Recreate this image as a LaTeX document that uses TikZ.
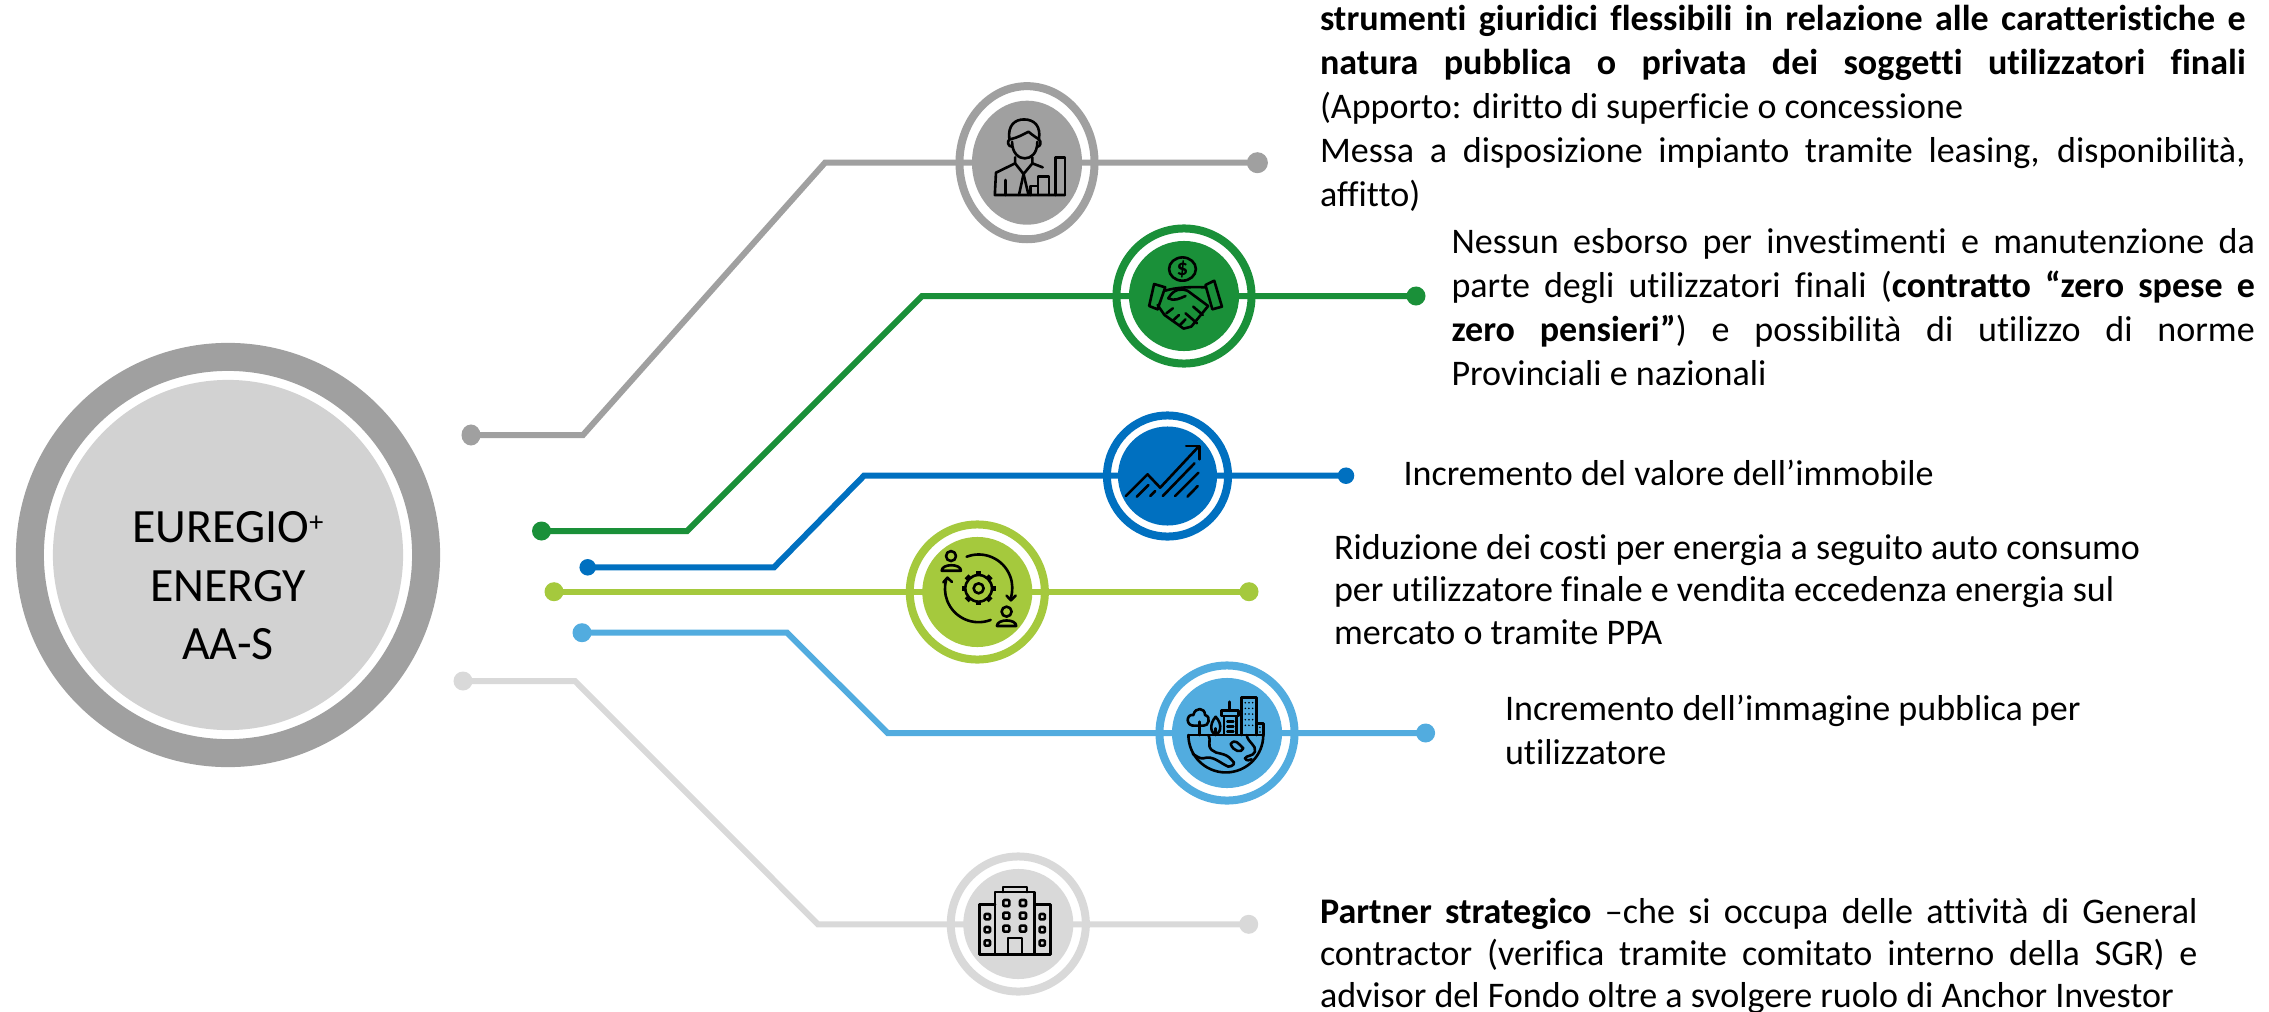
\documentclass[tikz,border=0pt]{standalone}
\usepackage{fontspec}
\setmainfont{Carlito}[Ligatures=NoCommon]
\usetikzlibrary{shapes.geometric}
\definecolor{ringgray}{HTML}{A0A0A0}
\definecolor{coregray}{HTML}{D2D2D2}
\definecolor{linegreen}{HTML}{1A9039}
\definecolor{lineblue}{HTML}{0070C0}
\definecolor{linelime}{HTML}{A5C93D}
\definecolor{linesky}{HTML}{52ACDF}
\definecolor{linepale}{HTML}{D9D9D9}
\tikzset{
  hubring/.style={circle, draw=#1, fill=white, line width=.08cm, outer sep=0, inner sep=0, minimum size=1.35cm},
  hubcore/.style={circle, fill=#1, outer sep=0, inner sep=0, minimum size=1.10cm},
  enddot/.style={circle, fill=#1, outer sep=0, inner sep=0, minimum size=.19cm},
  wire/.style={draw=#1, line width=.06cm, line join=miter},
  iconline/.style={draw=black, line width=.026cm, line join=round, line cap=round},
  zoomed/.style={x=.003333cm, y=-.003333cm},
  bodytext/.style={anchor=north west, inner sep=0, outer sep=0, align=justify, font=\fontsize{10.25}{12.55}\selectfont},
  plaintext/.style={anchor=north west, inner sep=0, outer sep=0, align=left, font=\fontsize{10.25}{12.55}\selectfont}
}
\begin{document}
\begin{tikzpicture}[x=.01cm, y=-.01cm]
  \useasboundingbox (0,0) rectangle (2269,1012);

  % main circle
  \node[circle, draw=ringgray, fill=white, line width=.28cm, outer sep=0, inner sep=0, minimum size=3.96cm] (euring) at (228,555) {};
  \node[circle, fill=coregray, outer sep=0, inner sep=0, minimum size=3.50cm] (eucore) at (228,555) {};
  \node[align=center, inner sep=0, font=\fontsize{13.6}{16.6}\selectfont] (eutext) at (228,586) {EUREGIO{\fontsize{8}{8}\selectfont\raisebox{.85ex}{+}}\\ENERGY\\AA-S};

  % rings of the six hubs
  \node[ellipse, draw=ringgray, fill=white, line width=.08cm, outer sep=0, inner sep=0, minimum width=1.35cm, minimum height=1.53cm] (manring) at (1027,162.7) {};
  \node[hubring=linegreen] (dealring) at (1184,296) {};
  \node[hubring=lineblue, minimum size=1.21cm] (growring) at (1167.5,476) {};
  \node[hubring=linelime] (gearring) at (977.3,592) {};
  \node[hubring=linesky] (cityring) at (1227,733) {};
  \node[hubring=linepale] (bldgring) at (1018.3,924) {};

  % end dots on the left
  \node[enddot=ringgray, minimum height=.21cm, ellipse] (manleft) at (471,435) {};
  \node[enddot=linegreen] (dealleft) at (541.5,531) {};
  \node[enddot=lineblue, minimum size=.165cm] (growleft) at (587.7,567.3) {};
  \node[enddot=linelime] (gearleft) at (554,591.7) {};
  \node[enddot=linesky] (cityleft) at (582,632.7) {};
  \node[enddot=linepale] (bldgleft) at (463,681) {};
  % end dots on the right
  \node[ellipse, enddot=ringgray, minimum height=.21cm] (manright) at (1257.4,162.7) {};
  \node[enddot=linegreen] (dealright) at (1416,296) {};
  \node[enddot=lineblue, minimum size=.165cm] (growright) at (1346,475.7) {};
  \node[enddot=linelime] (gearright) at (1249,591.7) {};
  \node[enddot=linesky] (cityright) at (1425.6,733) {};
  \node[enddot=linepale] (bldgright) at (1248.7,924.3) {};

  % elbows
  \coordinate (manbend) at (583,435);
  \coordinate (mantop) at (825,162.7);
  \coordinate (dealbend) at (687,531);
  \coordinate (dealtop) at (922,296);
  \coordinate (growbend) at (774,567.3);
  \coordinate (growtop) at (864,475.7);
  \coordinate (citybend) at (787,632.7);
  \coordinate (citylow) at (887.7,733);
  \coordinate (bldgbend) at (575,681);
  \coordinate (bldglow) at (818,924.3);

  % connectors
  \draw[wire=ringgray] (manleft.center) -- (manbend) -- (mantop) -- (manright.center);
  \draw[wire=linegreen] (dealleft.center) -- (dealbend) -- (dealtop) -- (dealright.center);
  \draw[wire=lineblue] (growleft.center) -- (growbend) -- (growtop) -- (growright.center);
  \draw[wire=linelime] (gearleft.center) -- (gearright.center);
  \draw[wire=linesky] (cityleft.center) -- (citybend) -- (citylow) -- (cityright.center);
  \draw[wire=linepale] (bldgleft.center) -- (bldgbend) -- (bldglow) -- (bldgright.center);

  % cores of the hubs
  \node[ellipse, fill=ringgray, outer sep=0, inner sep=0, minimum width=1.10cm, minimum height=1.24cm] (mancore) at (manring) {};
  \node[hubcore=linegreen] (dealcore) at (dealring) {};
  \node[hubcore=lineblue, minimum size=.99cm] (growcore) at (growring) {};
  \node[hubcore=linelime] (gearcore) at (gearring) {};
  \node[hubcore=linesky] (citycore) at (cityring) {};
  \node[hubcore=linepale] (bldgcore) at (bldgring) {};

  % person with bars
  \begin{scope}[shift={(mancore)}, x=.003827cm, y=-.003333cm, shift={(-331,-338)}]
    \draw[iconline] (285,268) .. controls (280,225) and (300,208) .. (323,208) .. controls (350,208) and (368,228) .. (362,268);
    \draw[iconline] (285,268) .. controls (310,262) and (325,250) .. (335,245) .. controls (345,255) and (355,262) .. (362,268);
    \draw[iconline] (292,275) .. controls (292,310) and (310,325) .. (325,325) .. controls (342,325) and (358,310) .. (358,275);
    \draw[iconline] (285,268) .. controls (278,275) and (282,290) .. (292,290);
    \draw[iconline] (362,268) .. controls (370,275) and (366,290) .. (358,290);
    \draw[iconline] (300,322) -- (300,340) -- (322,372) -- (345,340) -- (345,322);
    \draw[iconline] (300,340) -- (250,368) -- (247,435) -- (430,435);
    \draw[iconline] (345,340) -- (372,352);
    \draw[iconline] (275,390) -- (275,435);
    \draw[iconline] (322,372) -- (310,435);
    \draw[iconline] (322,372) -- (335,435);
    \draw[iconline] (340,435) -- (340,408) -- (360,408) -- (360,435);
    \draw[iconline] (360,408) -- (360,380) -- (388,380) -- (388,435);
    \draw[iconline] (405,435) -- (405,322) -- (430,322) -- (430,435);
  \end{scope}

  % handshake with coin
  \begin{scope}[shift={(dealcore)}, x=.003827cm, y=-.003333cm, shift={(-741,-738)}]
    \draw[iconline] (737,657) circle[x radius=35, y radius=35];
    \node[inner sep=0, font=\fontsize{6.5}{6.5}\selectfont\bfseries] (dealcoin) at (737,657) {\$};
    \draw[iconline] (663,702) -- (692,712) -- (672,778) -- (650,768) -- cycle;
    \draw[iconline] (820,692) -- (840,770) -- (815,778) -- (797,705) -- cycle;
    \draw[iconline] (692,722) .. controls (720,712) and (760,710) .. (797,712);
    \draw[iconline] (804,768) -- (760,830) -- (740,836) -- (690,795) -- (672,765);
    \draw[iconline] (700,745) .. controls (715,715) and (735,715) .. (750,722) -- (804,768);
    \draw[iconline] (700,745) .. controls (715,755) and (730,745) .. (745,738);
    \draw[iconline] (695,790) -- (712,775);
    \draw[iconline] (712,812) -- (728,795);
    \draw[iconline] (730,826) -- (745,808);
    \draw[iconline] (745,790) -- (775,820);
    \draw[iconline] (765,770) -- (790,795);
  \end{scope}

  % rising arrow
  \begin{scope}[shift={(growcore)}, zoomed, shift={(-922,-168)}]
    \draw[iconline] (797,228) -- (862,163) -- (900,203) -- (1015,80);
    \draw[iconline] (978,78) -- (1018,78) -- (1018,118);
    \draw[iconline] (830,230) -- (865,195);
    \draw[iconline] (870,228) -- (885,213);
    \draw[iconline] (908,228) -- (1003,130);
    \draw[iconline] (945,228) -- (1015,158);
    \draw[iconline] (982,230) -- (1013,198);
  \end{scope}

  % gear with two people
  \begin{scope}[shift={(gearcore)}, zoomed, shift={(-352,-516)}]
    \foreach \ang in {0,45,...,315}
      \draw[iconline, line width=.055cm, line cap=butt] (356,505) ++(\ang:36) -- ++(\ang:15);
    \draw[iconline, fill=linelime] (356,505) circle[radius=40];
    \draw[iconline] (356,505) circle[radius=15];
    \draw[iconline] (273,408) circle[radius=15];
    \draw[iconline] (245,452) .. controls (245,430) and (303,430) .. (303,452) -- cycle;
    \draw[iconline] (440,575) circle[radius=15];
    \draw[iconline] (411,618) .. controls (411,596) and (469,596) .. (469,618) -- cycle;
    \draw[iconline] (320,410) arc[start angle=-111, end angle=19, radius=101];
    \draw[iconline] (440,527) -- (453,541) -- (467,527);
    \draw[iconline] (392,600) arc[start angle=69, end angle=197, radius=101];
    \draw[iconline] (250,487) -- (262,473) -- (276,486);
  \end{scope}

  % earth with town
  \begin{scope}[shift={(citycore)}, zoomed, shift={(-1101,-939)}]
    \draw[iconline] (985,945) -- (1210,945);
    \draw[iconline] (985,945) arc[start angle=180, end angle=0, radius=112.5];
    \draw[iconline] (1018,945) -- (1018,905);
    \draw[iconline] (1005,917) .. controls (975,920) and (978,880) .. (1000,885) .. controls (1005,860) and (1035,862) .. (1035,885) .. controls (1055,890) and (1045,920) .. (1030,917) -- cycle;
    \draw[iconline] (1067,945) -- (1067,925);
    \draw[iconline] (1067,890) .. controls (1090,915) and (1080,942) .. (1067,942) .. controls (1054,942) and (1045,915) .. (1067,890);
    \draw[iconline] (1108,845) -- (1108,872);
    \draw[iconline] (1085,872) rectangle (1135,888);
    \draw[iconline] (1092,888) rectangle (1130,945);
    \foreach \yy in {905,920,935}
      \draw[iconline] (1102,\yy) -- (1120,\yy);
    \draw[iconline] (1145,945) -- (1145,832) -- (1190,832) -- (1190,945);
    \foreach \xx in {1156,1167,1178}
      \foreach \yy in {848,865,882,899,916}
        \fill (\xx,\yy) circle[radius=2.6];
    \draw[iconline] (1190,910) -- (1210,910) -- (1210,945);
    \fill (1200,922) circle[radius=2.6] (1200,936) circle[radius=2.6];
    \draw[iconline] (1045,945) .. controls (1055,965) and (1040,975) .. (1055,990) .. controls (1070,1005) and (1095,995) .. (1115,1020) .. controls (1130,1030) and (1118,1040) .. (1105,1040) .. controls (1080,1030) and (1060,1005) .. (1030,1015) .. controls (1020,1018) and (1005,1005) .. (998,1002);
    \draw[iconline] (1112,972) .. controls (1125,955) and (1135,970) .. (1150,985) .. controls (1145,1000) and (1120,995) .. (1112,972) -- cycle;
    \draw[iconline] (1160,945) .. controls (1165,970) and (1190,975) .. (1185,995) .. controls (1180,1010) and (1160,1005) .. (1155,1015) .. controls (1160,1025) and (1170,1020) .. (1175,1018);
  \end{scope}

  % office building
  \begin{scope}[shift={(bldgcore)}, zoomed, shift={(-354,-313)}]
    \draw[iconline] (308,217) -- (308,202) -- (380,202) -- (380,217);
    \draw[iconline] (284,405) -- (284,217) -- (403,217) -- (403,405);
    \draw[iconline] (284,255) -- (237,255) -- (237,405) -- (451,405) -- (451,255) -- (403,255);
    \draw[iconline] (323,405) -- (323,355) -- (365,355) -- (365,405);
    \foreach \xx in {318,368}
      \foreach \yy in {250,288,327}
        \draw[iconline, rounded corners=.01cm] (\xx-9,\yy-9) rectangle (\xx+9,\yy+9);
    \foreach \xx in {261,426}
      \foreach \yy in {291,330,370}
        \draw[iconline, rounded corners=.01cm] (\xx-8,\yy-8) rectangle (\xx+8,\yy+8);
  \end{scope}

  % texts
  \node[bodytext, text width=9.25cm] (mantext) at (1320,5) {\textbf{strumenti giuridici flessibili in relazione alle caratteristiche e}\linebreak \textbf{natura pubblica o privata dei soggetti utilizzatori finali}\linebreak (Apporto: diritto di superficie o concessione\\ Messa a disposizione impianto tramite leasing, disponibilità,\linebreak affitto)};
  \node[bodytext, text width=8.03cm] (dealtext) at (1451.5,228) {Nessun esborso per investimenti e manutenzione da\linebreak parte degli utilizzatori finali (\textbf{contratto “zero spese e}\linebreak \textbf{zero pensieri”}) e possibilità di utilizzo di norme\linebreak Provinciali e nazionali};
  \node[plaintext] (growtext) at (1403.5,460) {Incremento del valore dell’immobile};
  \node[plaintext, font=\fontsize{10.25}{12.1}\selectfont] (geartext) at (1334,534) {Riduzione dei costi per energia a seguito auto consumo\\per utilizzatore finale e vendita eccedenza energia sul\\mercato o tramite PPA};
  \node[plaintext] (citytext) at (1505,695) {Incremento dell’immagine pubblica per\\utilizzatore};
  \node[bodytext, text width=8.77cm, font=\fontsize{10.25}{12}\selectfont] (bldgtext) at (1320,898) {\textbf{Partner strategico} –che si occupa delle attività di General\linebreak contractor (verifica tramite comitato interno della SGR) e\linebreak advisor del Fondo oltre a svolgere ruolo di Anchor Investor};
\end{tikzpicture}
\end{document}
